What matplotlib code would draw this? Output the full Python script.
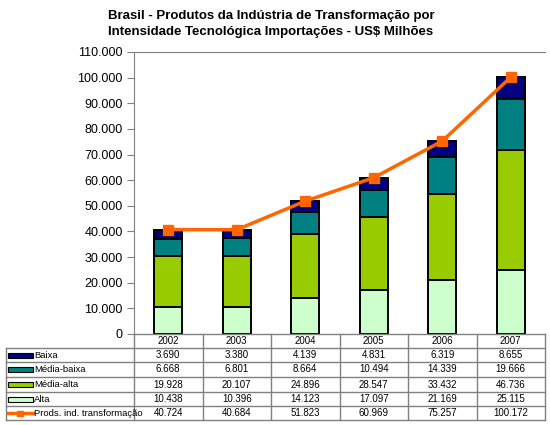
import numpy as np
import matplotlib
matplotlib.use("Agg")
import matplotlib.pyplot as plt
from matplotlib.patches import Rectangle
from matplotlib.lines import Line2D

plt.rcParams["font.family"] = ["Liberation Sans", "DejaVu Sans"]

years = ["2002", "2003", "2004", "2005", "2006", "2007"]
baixa = [3690, 3380, 4139, 4831, 6319, 8655]
media_baixa = [6668, 6801, 8664, 10494, 14339, 19666]
media_alta = [19928, 20107, 24896, 28547, 33432, 46736]
alta = [10438, 10396, 14123, 17097, 21169, 25115]
total = [40724, 40684, 51823, 60969, 75257, 100172]

series_names = ["Baixa", "Média-baixa", "Média-alta", "Alta"]
series_vals = [baixa, media_baixa, media_alta, alta]
series_colors = ["#000080", "#008080", "#99CC00", "#CCFFCC"]
line_name = "Prods. ind. transformação"
line_color = "#FF6600"

W, H = 550, 425
fig = plt.figure(figsize=(5.5, 4.25), dpi=100)


def fx(px):
    return px / W


def fy(py):
    return 1 - py / H


x0, x1 = 134, 545
ytop, ybot = 52, 334
ax = fig.add_axes([fx(x0), fy(ybot), fx(x1) - fx(x0), fy(ytop) - fy(ybot)])

x = np.arange(len(years))
bottom = np.zeros(len(years))
# stack from bottom: Alta, Média-alta, Média-baixa, Baixa
for name, vals, col in reversed(list(zip(series_names, series_vals, series_colors))):
    ax.bar(x, vals, bottom=bottom, width=0.41, color=col, edgecolor="black",
           linewidth=1.4, zorder=2)
    bottom += np.array(vals)
ax.plot(x, total, "-s", color=line_color, lw=2.5, ms=7, zorder=3)

ax.set_xlim(-0.5, len(years) - 0.5)
ax.set_ylim(0, 110000)
ax.set_yticks(np.arange(0, 110001, 10000))
ax.set_yticklabels([f"{v:,}".replace(",", ".") for v in range(0, 110001, 10000)],
                   fontsize=9)
ax.set_xticks([])
for s in ["right", "bottom"]:
    ax.spines[s].set_visible(False)
for s in ["left", "top"]:
    ax.spines[s].set_color("#808080")
ax.tick_params(axis="y", length=5, color="#808080", pad=3)

fig.text(fx(271), fy(24), "Brasil - Produtos da Indústria de Transformação por\n"
         "Intensidade Tecnológica Importações - US$ Milhões",
         ha="center", va="center", fontsize=9.5, fontweight="bold", linespacing=1.45)

# data table below the chart
tax = fig.add_axes([0, 0, 1, 1])
tax.set_xlim(0, W)
tax.set_ylim(H, 0)
tax.axis("off")
grid = "#808080"
lab_x0 = 6
row_y = [334, 348, 362, 377, 392, 406, 420]
col_w = (x1 - x0) / len(years)
col_x = [x0 + i * col_w for i in range(len(years) + 1)]

# header row
tax.plot([x0, x1], [row_y[0], row_y[0]], color=grid, lw=1)
for cx in col_x:
    tax.plot([cx, cx], [row_y[0], row_y[-1]], color=grid, lw=1)
tax.plot([lab_x0, lab_x0], [row_y[1], row_y[-1]], color=grid, lw=1)
for ry in row_y[1:]:
    tax.plot([lab_x0, x1], [ry, ry], color=grid, lw=1)
for i, yr in enumerate(years):
    tax.text(x0 + (i + 0.5) * col_w, (row_y[0] + row_y[1]) / 2, yr,
             ha="center", va="center", fontsize=7)

rows = list(zip(series_names, series_vals, series_colors)) + [(line_name, total, None)]
for r, (name, vals, col) in enumerate(rows):
    yc = (row_y[r + 1] + row_y[r + 2]) / 2
    if col is not None:
        tax.add_patch(Rectangle((8, yc - 2.5), 25, 5, facecolor=col,
                                edgecolor="black", lw=0.8))
    else:
        tax.add_line(Line2D([8, 33], [yc, yc], color=line_color, lw=2.5))
        tax.add_patch(Rectangle((17, yc - 2.5), 6, 5, color=line_color))
    tax.text(34, yc, name, ha="left", va="center", fontsize=6.8)
    for i, v in enumerate(vals):
        tax.text(x0 + (i + 0.5) * col_w, yc, f"{v:,}".replace(",", "."),
                 ha="center", va="center", fontsize=7)

fig.savefig("out.png", dpi=100)
